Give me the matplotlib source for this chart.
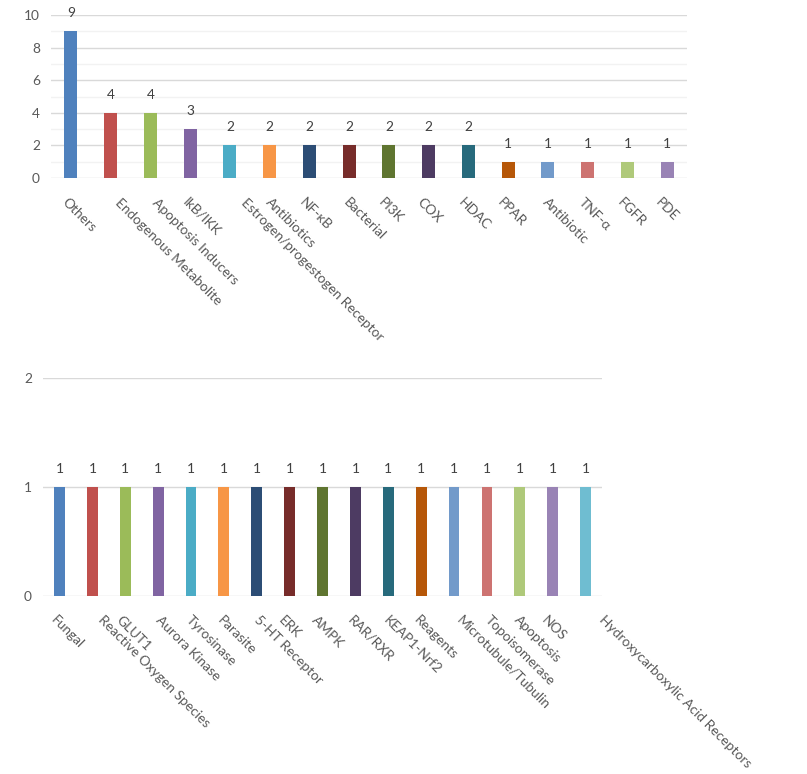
import matplotlib
matplotlib.use('Agg')
import matplotlib.pyplot as plt

plt.rcParams['font.family'] = ['Lato', 'DejaVu Sans']

# upper chart
targets_top = ['Others', 'Endogenous Metabolite', 'Apoptosis Inducers', 'IkB/IKK',
               'Estrogen/progestogen Receptor', 'Antibiotics', 'NF-κB', 'Bacterial',
               'PI3K', 'COX', 'HDAC', 'PPAR', 'Antibiotic', 'TNF-α', 'FGFR', 'PDE']
counts_top = [9, 4, 4, 3, 2, 2, 2, 2, 2, 2, 2, 1, 1, 1, 1, 1]

# lower chart
targets_bottom = ['Fungal', 'Reactive Oxygen Species', 'GLUT1', 'Aurora Kinase', 'Tyrosinase',
                  'Parasite', '5-HT Receptor', 'ERK', 'AMPK', 'RAR/RXR', 'KEAP1-Nrf2',
                  'Reagents', 'Microtubule/Tubulin', 'Topoisomerase', 'Apoptosis', 'NOS',
                  'Hydroxycarboxylic Acid Receptors']
counts_bottom = [1] * 17

colori = ['#4F81BD', '#C0504D', '#9BBB59', '#8064A2', '#4BACC6', '#F79646',
          '#2C4D75', '#772C2A', '#5F7530', '#4D3B62', '#276A7C', '#B65708',
          '#729ACA', '#CD7371', '#AFC97A', '#9983B5', '#6FBDD1']

testo = '#595959'
fs = 9.9

fig = plt.figure(figsize=(8.07, 7.74), dpi=100)
ax1 = fig.add_axes([0.0632, 0.7700, 0.7881, 0.2106])
ax2 = fig.add_axes([0.0533, 0.2300, 0.6927, 0.2816])


def disegna(ax, nomi, valori, ymax, major, minor):
    x = list(range(len(nomi)))
    ax.bar(x, valori, width=0.33, color=colori[:len(nomi)], zorder=3)
    ax.set_xlim(-0.5, len(nomi) - 0.5)
    ax.set_ylim(0, ymax)
    ax.set_yticks(range(0, ymax + 1, major))
    if minor:
        ax.set_yticks(range(1, ymax, 2), minor=True)
        ax.grid(axis='y', which='minor', color='#F2F2F2', linewidth=1, zorder=0)
    ax.grid(axis='y', which='major', color='#D9D9D9', linewidth=1, zorder=0)
    for s in ax.spines.values():
        s.set_visible(False)
    ax.tick_params(axis='y', which='both', length=0, pad=8, labelsize=fs, labelcolor=testo)
    ax.tick_params(axis='x', length=0)
    ax.set_xticks([])
    # valori sopra le barre
    for i, v in zip(x, valori):
        ax.annotate(str(v), (i, v), xytext=(0, 13), textcoords='offset points',
                    ha='center', va='center', fontsize=fs, color='#404040')
    # etichette ruotate
    for i, nome in zip(x, nomi):
        dx = (0.87 * len(nome) - 7.5) * 0.72
        ax.annotate(nome, (i, 0), xytext=(dx, -18 * 0.72), textcoords='offset points',
                    rotation=-45, rotation_mode='anchor', ha='left', va='top',
                    fontsize=fs, color=testo, annotation_clip=False)


disegna(ax1, targets_top, counts_top, 10, 2, True)
disegna(ax2, targets_bottom, counts_bottom, 2, 1, False)

fig.savefig('out.png', dpi=100)
